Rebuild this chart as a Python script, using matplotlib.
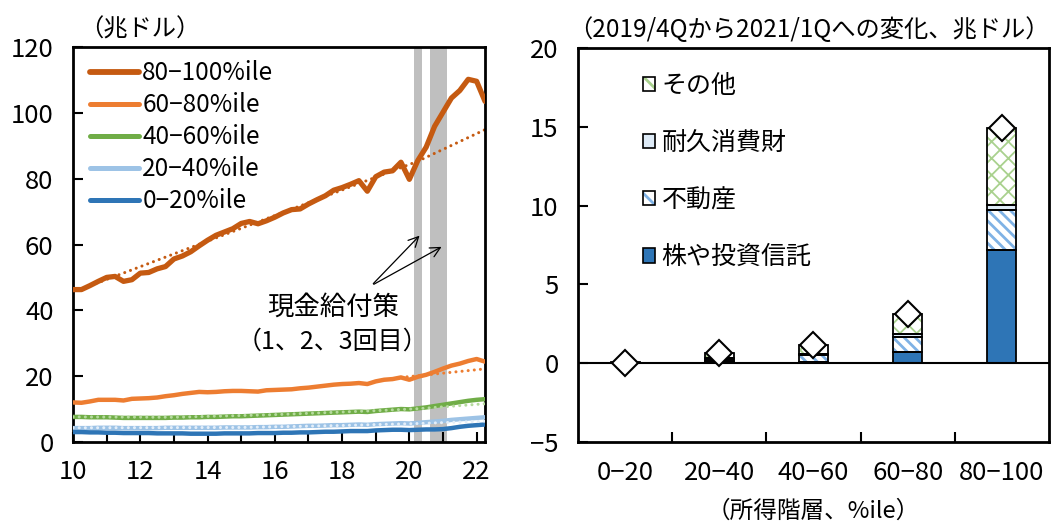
"""US household wealth by income group, and its change during the cash payment period."""

import matplotlib

matplotlib.use("Agg")
import matplotlib.pyplot as plt
import matplotlib.patches as mpatches
from matplotlib.lines import Line2D
from matplotlib.legend_handler import HandlerTuple
import numpy as np

plt.rcParams["font.family"] = ["Noto Sans CJK JP", "DejaVu Sans"]
plt.rcParams["hatch.linewidth"] = 2.0

# quarterly net worth, 2010Q1 - 2022Q2 (trillion dollars)
first_year = 10
wealth_80_100 = [
    46.3, 46.3, 47.5, 48.8, 50.0, 50.3, 48.8, 49.3, 51.3, 51.5,
    52.6, 53.3, 55.6, 56.5, 57.8, 59.6, 61.3, 62.8, 63.8, 64.8,
    66.4, 67.0, 66.3, 67.2, 68.3, 69.6, 70.6, 70.8, 72.3, 73.6,
    74.8, 76.5, 77.3, 78.3, 79.4, 76.2, 80.6, 82.0, 82.4, 85.0,
    79.8, 85.5, 89.6, 95.9, 100.2, 104.5, 106.8, 110.2, 109.6, 103.5,
]
wealth_60_80 = [
    12.0, 11.9, 12.3, 12.8, 12.8, 12.8, 12.6, 13.1, 13.2, 13.3,
    13.5, 13.9, 14.2, 14.6, 14.9, 15.2, 15.1, 15.2, 15.4, 15.5,
    15.5, 15.4, 15.3, 15.7, 15.8, 15.9, 16.0, 16.3, 16.5, 16.8,
    17.1, 17.4, 17.6, 17.7, 17.9, 17.6, 18.4, 18.9, 19.1, 19.6,
    18.9, 19.8, 20.4, 21.3, 22.3, 23.2, 23.8, 24.6, 25.2, 24.4,
]
wealth_40_60 = [
    7.6, 7.6, 7.5, 7.5, 7.5, 7.4, 7.3, 7.3, 7.3, 7.3,
    7.3, 7.3, 7.4, 7.4, 7.5, 7.5, 7.6, 7.6, 7.7, 7.8,
    7.8, 7.9, 8.0, 8.1, 8.2, 8.3, 8.4, 8.5, 8.6, 8.7,
    8.8, 8.9, 9.0, 9.1, 9.2, 9.1, 9.4, 9.6, 9.8, 10.0,
    9.9, 10.2, 10.5, 10.9, 11.3, 11.7, 12.1, 12.5, 12.8, 13.0,
]
wealth_20_40 = [
    4.2, 4.2, 4.2, 4.3, 4.3, 4.3, 4.2, 4.2, 4.2, 4.2,
    4.2, 4.3, 4.3, 4.3, 4.3, 4.3, 4.3, 4.3, 4.4, 4.4,
    4.4, 4.4, 4.5, 4.5, 4.6, 4.6, 4.7, 4.8, 4.9, 4.9,
    5.0, 5.1, 5.1, 5.2, 5.3, 5.2, 5.4, 5.5, 5.6, 5.7,
    5.6, 5.8, 6.0, 6.2, 6.4, 6.7, 6.9, 7.1, 7.3, 7.5,
]
wealth_0_20 = [
    3.0, 3.0, 2.9, 2.9, 2.8, 2.8, 2.7, 2.7, 2.7, 2.7,
    2.6, 2.6, 2.6, 2.6, 2.5, 2.5, 2.5, 2.5, 2.6, 2.6,
    2.6, 2.6, 2.7, 2.7, 2.7, 2.8, 2.8, 2.9, 2.9, 3.0,
    3.1, 3.1, 3.2, 3.3, 3.3, 3.3, 3.5, 3.6, 3.7, 3.7,
    3.6, 3.7, 3.8, 3.8, 3.9, 4.2, 4.6, 4.9, 5.1, 5.3,
]

# pre-pandemic trend lines: (quarter index, value) anchor points
trend_80_100_q = [0, 41, 49]
trend_80_100 = [45.5, 85.3, 94.9]
trend_60_80_q = [39, 49]
trend_60_80 = [19.6, 22.2]
trend_40_60_q = [0, 12, 24, 36, 41, 49]
trend_40_60 = [7.6, 7.5, 8.3, 9.5, 10.1, 11.6]
trend_20_40_q = [0, 20, 32, 41, 49]
trend_20_40 = [4.3, 4.4, 5.0, 5.6, 6.3]

# quarters with stimulus checks (year value of the quarter midpoint)
stimulus_quarters = [20.25, 20.75, 21.0]

# change from 2019/4Q to 2021/1Q by income group (trillion dollars)
income_groups = ["0−20", "20−40", "40−60", "60−80", "80−100"]
stocks_funds = [0.02, 0.12, 0.10, 0.72, 7.20]
real_estate = [0.01, 0.12, 0.40, 0.96, 2.55]
durables = [0.01, 0.08, 0.08, 0.17, 0.30]
other_assets = [0.01, 0.30, 0.57, 1.27, 4.90]
total_change = [0.0, 0.65, 1.15, 3.12, 14.95]

series = [
    ("80−100%ile", wealth_80_100, "#C55A11", 3.8),
    ("60−80%ile", wealth_60_80, "#ED7D31", 3.2),
    ("40−60%ile", wealth_40_60, "#70AD47", 3.2),
    ("20−40%ile", wealth_20_40, "#9DC3E6", 3.2),
    ("0−20%ile", wealth_0_20, "#2E75B6", 3.2),
]
# (quarters, values, colour, drawn above the solid line)
trends = [
    (trend_80_100_q, trend_80_100, "#C55A11", False),
    (trend_60_80_q, trend_60_80, "#ED7D31", False),
    (trend_40_60_q, trend_40_60, "#B5DA9E", True),
    (trend_20_40_q, trend_20_40, "#E3EEF9", True),
]

fig = plt.figure(figsize=(10.51, 5.23), dpi=100)
ax = fig.add_axes([0.0695, 0.155, 0.392, 0.755])
ax2 = fig.add_axes([0.550, 0.155, 0.448, 0.753])

# ---- left: wealth levels
for q in stimulus_quarters:
    ax.axvspan(q - 0.125, q + 0.125, color="#BFBFBF", lw=0, zorder=1)

handles = []
for label, values, color, lw in series:
    years = first_year + np.arange(len(values)) / 4
    ax.plot(years, values, color=color, lw=lw, solid_capstyle="round", zorder=3)
    handles.append(Line2D([], [], color=color, lw=lw + 0.4, solid_capstyle="round", label=label))

for quarters, values, color, on_top in trends:
    years = first_year + np.array(quarters) / 4
    ax.plot(years, values, color=color, lw=2.2, ls=(0, (0.01, 2.0)), dash_capstyle="round",
            zorder=4 if on_top else 2)

ax.set_xlim(10, 22.25)
ax.set_ylim(0, 120)
ax.set_xticks(np.arange(10, 23, 2))
ax.set_xticklabels([f"{y}" for y in range(10, 23, 2)])
ax.set_xticks(np.arange(10, 23, 1), minor=True)
ax.set_yticks(np.arange(0, 121, 20))
ax.tick_params(axis="both", which="both", direction="in", length=7, width=1.5,
               labelsize=18.5, top=False, right=False)
ax.tick_params(axis="x", which="major", pad=12)
ax.tick_params(axis="y", which="major", pad=14)
for spine in ax.spines.values():
    spine.set_linewidth(2)

ax.legend(handles=handles, loc="upper left", bbox_to_anchor=(0.0, 1.01), frameon=False,
          fontsize=17.5, handlelength=2.0, handletextpad=0.15, labelspacing=0.25,
          borderaxespad=0.3)

ax.text(0.015, 1.045, "（兆ドル）", transform=ax.transAxes, fontsize=17.5, ha="left", va="center")
ax.text(30.9 / 4 + first_year, 41.0, "現金給付策", fontsize=19, ha="center", va="center")
ax.text(30.9 / 4 + first_year, 30.5, "（1、2、3回目）", fontsize=18, ha="center", va="center")
for target in [(20.36, 63.3), (21.03, 59.7)]:
    ax.annotate("", xy=target, xytext=(18.87, 47.5),
                arrowprops=dict(arrowstyle="->", color="black", lw=0.9, mutation_scale=18))

# ---- right: change by asset type
x = np.arange(len(income_groups))
width = 0.31
bottom = np.zeros(len(x))


def outline(values, base):
    ax2.bar(x, values, width, bottom=base, facecolor="none", edgecolor="black", lw=1.3, zorder=3)


ax2.bar(x, stocks_funds, width, bottom=bottom, color="#2E75B6", lw=0, zorder=2)
outline(stocks_funds, bottom)
bottom = bottom + np.array(stocks_funds)

ax2.bar(x, real_estate, width, bottom=bottom, facecolor="white", edgecolor="#7FB2E5",
        hatch="\\\\\\", lw=0, zorder=2)
outline(real_estate, bottom)
bottom = bottom + np.array(real_estate)

ax2.bar(x, durables, width, bottom=bottom, color="#DEEBF7", lw=0, zorder=2)
outline(durables, bottom)
bottom = bottom + np.array(durables)

with plt.rc_context({"hatch.linewidth": 1.3}):
    ax2.bar(x, other_assets, width, bottom=bottom, facecolor="white", edgecolor="#A9D18E",
            hatch="xx", lw=0, zorder=2)
outline(other_assets, bottom)

ax2.axhline(0, color="black", lw=1.5, zorder=4)
ax2.plot(x, total_change, ls="none", marker="D", ms=13.5, mfc="white", mec="black",
         mew=1.5, zorder=5)

ax2.set_xlim(-0.5, 4.5)
ax2.set_ylim(-5, 20)
ax2.set_yticks(np.arange(-5, 21, 5))
ax2.set_xticks(x)
ax2.set_xticklabels(income_groups)
ax2.set_xticks(x[:-1] + 0.5, minor=True)
ax2.tick_params(axis="x", which="major", length=0, pad=13, labelsize=18.5)
ax2.tick_params(axis="x", which="minor", direction="in", length=7, width=1.5)
ax2.tick_params(axis="y", direction="in", length=7, width=1.5, pad=14, labelsize=18.5)
for spine in ax2.spines.values():
    spine.set_linewidth(2)
ax2.set_xlabel("（所得階層、%ile）", fontsize=17, labelpad=10)
ax2.text(0.49, 1.045, "（2019/4Qから2021/1Qへの変化、兆ドル）", transform=ax2.transAxes,
         fontsize=17.5, ha="center", va="center")


def box(face, hatch_color=None, hatch=None):
    if hatch is None:
        return (mpatches.Patch(facecolor=face, edgecolor="black", lw=1.2),)
    return (
        mpatches.Patch(facecolor="white", edgecolor=hatch_color, hatch=hatch, lw=0),
        mpatches.Patch(facecolor="none", edgecolor="black", lw=1.2),
    )


legend_handles = [
    box("white", "#A9D18E", "\\\\"),
    box("#DEEBF7"),
    box("white", "#7FB2E5", "\\\\"),
    box("#2E75B6"),
]
legend_labels = ["その他", "耐久消費財", "不動産", "株や投資信託"]
ax2.legend(legend_handles, legend_labels, handler_map={tuple: HandlerTuple(ndivide=1)},
           loc="upper left", bbox_to_anchor=(0.09, 0.995), frameon=False, fontsize=18,
           handlelength=0.5, handleheight=0.5, handletextpad=0.25, labelspacing=1.25)

fig.savefig("out.png", dpi=100)
